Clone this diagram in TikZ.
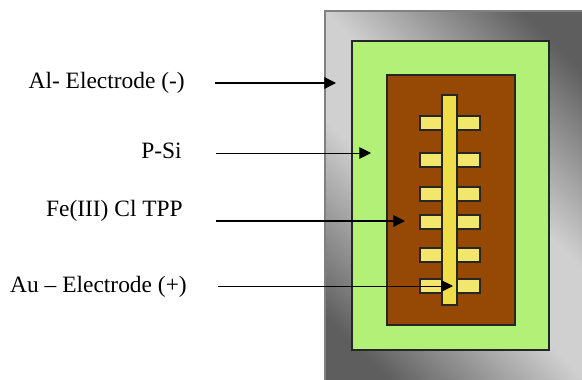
\documentclass[tikz,border=0pt]{standalone}
\usepackage{fontspec}
\setmainfont{Liberation Serif}
\usetikzlibrary{arrows.meta}
\definecolor{alGrayDark}{HTML}{5E5E5E}
\definecolor{alGrayLight}{HTML}{D0D0D0}
\definecolor{siGreen}{HTML}{B2F078}
\definecolor{tppBrown}{HTML}{964805}
\definecolor{auBar}{HTML}{EEDF4A}
\definecolor{auFinger}{HTML}{F2E66C}
\pgfdeclarehorizontalshading{alband}{100bp}{color(0bp)=(alGrayDark); color(22bp)=(alGrayDark); color(44bp)=(alGrayLight); color(56bp)=(alGrayLight); color(78bp)=(alGrayDark); color(100bp)=(alGrayDark)}
\tikzset{
 layer/.style={draw=black!85,line width=1.0pt},
 pointer/.style={-{Triangle[length=10pt,width=10pt]},black,line width=1.1pt},
 label text/.style={anchor=base east,inner sep=0pt,font=\fontsize{20pt}{22pt}\selectfont}
}

\begin{document}
\begin{tikzpicture}[x=0.03cm,y=-0.03cm]
 \useasboundingbox (0,0) rectangle (582,379);
 \clip (0,0) rectangle (582,379);
 \fill[white] (0,0) rectangle (582,379);
 \path[draw=black!50,line width=1.2pt,shading=alband,shading angle=45]
  (325,11) rectangle (590,385);
 \draw[layer,fill=siGreen] (352,41) rectangle (549,350);
 \draw[layer,fill=tppBrown] (387,75) rectangle (515,325);
 \foreach \fingerY in {123,160,194,222,255,286}
  \draw[layer,fill=auFinger] (420,\fingerY-7) rectangle (480,\fingerY+7);
 \draw[layer,fill=auBar] (442,95) rectangle (457,305);
 \node[label text] (lblAl) at (185,88) {Al- Electrode (-)};
 \node[label text] (lblSi) at (182,158) {P-Si};
 \node[label text] (lblTpp) at (183,216) {Fe(III) Cl TPP};
 \node[label text] (lblAu) at (187,292) {Au -- Electrode (+)};
 \coordinate (alFrom) at (215,83);
 \coordinate (alTo) at (336,83);
 \coordinate (siFrom) at (216,153);
 \coordinate (siTo) at (371,153);
 \coordinate (tppFrom) at (216,221);
 \coordinate (tppTo) at (405,221);
 \coordinate (auFrom) at (218,286);
 \coordinate (auTo) at (453,286);
 \draw[pointer] (alFrom) -- (alTo);
 \draw[pointer,line width=0.8pt] (siFrom) -- (siTo);
 \draw[pointer] (tppFrom) -- (tppTo);
 \draw[pointer,line width=0.8pt] (auFrom) -- (auTo);
\end{tikzpicture}
\end{document}
